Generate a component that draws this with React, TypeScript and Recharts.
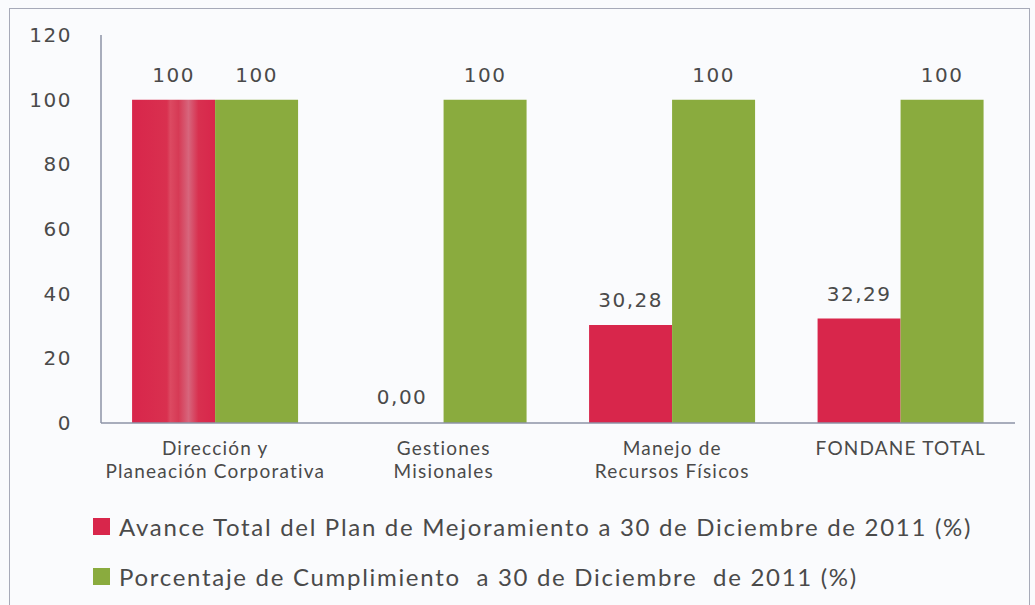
import { BarChart, Bar, XAxis, YAxis, LabelList, Cell } from "recharts";

const categories = [
  "Dirección y|Planeación Corporativa",
  "Gestiones|Misionales",
  "Manejo de|Recursos Físicos",
  "FONDANE TOTAL",
];
const avance = [100, 0, 30.28, 32.29];
const cumplimiento = [100, 100, 100, 100];
const yTicks = [0, 20, 40, 60, 80, 100, 120];
const seriesNames = [
  "Avance Total del Plan de Mejoramiento a 30 de Diciembre de 2011 (%)",
  "Porcentaje de Cumplimiento  a 30 de Diciembre  de 2011 (%)",
];

const RED = "#d8264b";
const GREEN = "#8aab3e";
const TEXT = "#4a4a4a";
const AXIS = "#8c93a6";

const data = categories.map((c, i) => ({
  name: c,
  avance: avance[i],
  cumplimiento: cumplimiento[i],
}));

const fmt = (v: number) => (v === 100 ? "100" : v.toFixed(2).replace(".", ","));

const numStyle = { fill: TEXT, fontFamily: "DejaVu Sans", fontSize: 20, letterSpacing: 1.5 };

function CategoryTick(props: any) {
  const { x, y, payload } = props;
  const lines = String(payload.value).split("|");
  return (
    <text x={x} y={y} textAnchor="middle" fill={TEXT} fontFamily="Lato" fontSize={19} letterSpacing={1.2}>
      {lines.map((l, i) => (
        <tspan key={i} x={x} dy={i === 0 ? 24 : 23}>
          {l}
        </tspan>
      ))}
    </text>
  );
}

function LegendBox() {
  const colors = [RED, GREEN];
  return (
    <div style={{ position: "absolute", left: 93, top: 501, fontFamily: "Lato", fontSize: 24, letterSpacing: 1.7, color: TEXT }}>
      {seriesNames.map((n, i) => (
        <div key={n} style={{ display: "flex", alignItems: "center", height: 50, whiteSpace: "pre" }}>
          <span style={{ width: 17, height: 17, background: colors[i], marginRight: 9, display: "inline-block" }} />
          {n}
        </div>
      ))}
    </div>
  );
}

export default function App() {
  return (
    <div style={{ position: "absolute", left: 0, top: 0, width: 1035, height: 605, background: "#fafbfd", overflow: "hidden" }}>
      <div style={{ position: "absolute", left: 9, top: 8, width: 1019, height: 610, border: "1px solid #a7aab8" }} />
      <div style={{ position: "absolute", left: 0, top: 0 }}>
        <BarChart
          width={1035}
          height={605}
          data={data}
          margin={{ top: 35, right: 20, left: 41, bottom: 82 }}
          barCategoryGap="13.6%"
          barGap={0}
        >
          <defs>
            <linearGradient id="streak" x1="0" y1="0" x2="1" y2="0">
              <stop offset="0" stopColor={RED} />
              <stop offset="0.42" stopColor="#d9304f" />
              <stop offset="0.46" stopColor="#dc4a62" />
              <stop offset="0.56" stopColor="#d63a55" />
              <stop offset="0.68" stopColor="#d7657c" />
              <stop offset="0.8" stopColor="#d8304f" />
              <stop offset="1" stopColor={RED} />
            </linearGradient>
          </defs>
          <XAxis
            dataKey="name"
            tick={<CategoryTick />}
            tickLine={false}
            axisLine={{ stroke: AXIS, strokeWidth: 1.5 }}
            height={100}
            interval={0}
          />
          <YAxis
            domain={[0, 120]}
            ticks={yTicks}
            width={60}
            tickLine={false}
            tickSize={0}
            tickMargin={29}
            axisLine={{ stroke: AXIS, strokeWidth: 1.5 }}
            tick={numStyle}
          />
          <Bar dataKey="avance" fill={RED} minPointSize={1} isAnimationActive={false}>
            {data.map((d, i) => (
              <Cell key={d.name} fill={d.avance === 0 ? "transparent" : i === 0 ? "url(#streak)" : RED} />
            ))}
            <LabelList
              dataKey="avance"
              position="top"
              offset={18}
              formatter={(v: any) => fmt(Number(v))}
              style={numStyle}
            />
          </Bar>
          <Bar dataKey="cumplimiento" fill={GREEN} isAnimationActive={false}>
            <LabelList
              dataKey="cumplimiento"
              position="top"
              offset={18}
              formatter={(v: any) => fmt(Number(v))}
              style={numStyle}
            />
          </Bar>
        </BarChart>
      </div>
      <LegendBox />
    </div>
  );
}
